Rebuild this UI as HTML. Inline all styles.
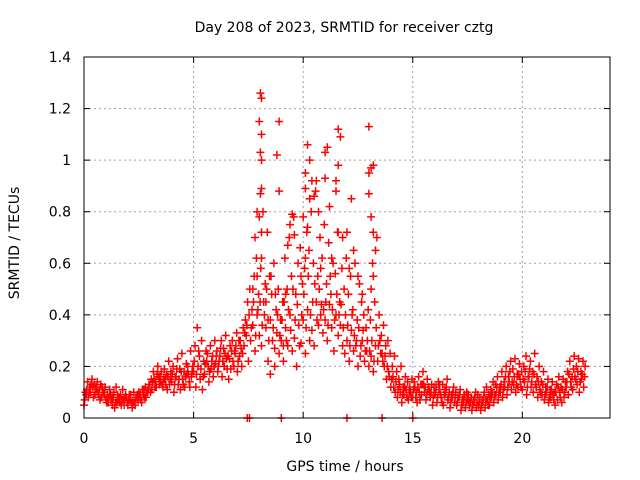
<!DOCTYPE html>
<html><head><meta charset="utf-8"><style>
html,body{margin:0;padding:0;background:#fff;}
svg{display:block;font-family:"DejaVu Sans","Liberation Sans",sans-serif;}
</style></head><body>
<svg id="chart" width="640" height="480" xmlns="http://www.w3.org/2000/svg">
<rect width="640" height="480" fill="#fff"/>
<text x="344" y="32" font-size="14" text-anchor="middle">Day 208 of 2023, SRMTID for receiver cztg</text>
<text x="19" y="243" font-size="14" text-anchor="middle" transform="rotate(-90 19 243)">SRMTID / TECUs</text>
<text x="345" y="471" font-size="14" text-anchor="middle">GPS time / hours</text>
<g id="grid"></g><g id="ticks"></g><g id="marks"></g>
<rect x="84" y="57" width="526" height="361" fill="none" stroke="#000" stroke-width="1"/>
</svg>
<script>
const xTicks=[0,5,10,15,20];
const yTicks=[0,0.2,0.4,0.6,0.8,1,1.2,1.4];
const yTickLabels=["0","0.2","0.4","0.6","0.8","1","1.2","1.4"];
const lowBand=[.05,.09,.08,.10,.12,.09,.14,.11,.08,.10,.07,.06,.09,.05,.04,.06,.08,.05,.07,.09,.05,.07,.04,.06,.08,.10,.07,.09,.12,.10,.13,.11,.15,.12,.16,.14,.12,.15,.11,.13,.14,.10,.16,.13,.11,.15,.12,.17,.14,.16,.18,.12,.20,.15,.11,.17,.22,.14,.19,.16,.21,.18,.24,.16,.20,.23,.15,.19,.22,.25,.18,.24,.20,.28,.32,.22,.30,.36,.26,.40,.32,.28,.45,.35,.22,.38,.30,.27,.33,.25,.30,.22,.35,.28,.40,.26,.31,.20,.36,.29,.38,.25,.42,.30,.34,.28,.45,.36,.40,.33,.38,.30,.44,.35,.26,.40,.32,.36,.28,.25,.30,.22,.34,.26,.28,.20,.24,.30,.22,.26,.20,.24,.18,.28,.22,.30,.25,.20,.15,.18,.12,.16,.10,.08,.13,.06,.09,.11,.07,.10,.08,.12,.06,.10,.09,.13,.07,.11,.08,.05,.09,.06,.11,.08,.05,.10,.07,.04,.08,.06,.05,.08,.03,.06,.04,.07,.05,.03,.06,.04,.05,.03,.06,.04,.07,.05,.08,.06,.09,.07,.10,.08,.12,.09,.14,.11,.13,.10,.12,.15,.11,.14,.09,.16,.12,.10,.13,.08,.11,.09,.07,.10,.06,.08,.09,.05,.07,.10,.06,.08,.12,.09,.14,.11,.16,.13,.10,.15,.12];
const midBand=[.07,.11,.10,.13,.08,.12,.10,.07,.12,.09,.06,.08,.07,.08,.06,.09,.06,.07,.05,.08,.07,.09,.06,.05,.09,.08,.06,.11,.08,.11,.10,.14,.12,.17,.13,.18,.15,.13,.16,.15,.17,.13,.19,.15,.18,.13,.16,.20,.12,.18,.22,.17,.26,.19,.16,.21,.25,.18,.22,.20,.24,.20,.27,.22,.25,.19,.23,.26,.20,.28,.22,.30,.25,.33,.36,.40,.35,.45,.32,.42,.45,.36,.40,.50,.30,.55,.35,.48,.40,.32,.38,.45,.30,.42,.34,.50,.38,.44,.28,.40,.48,.35,.55,.40,.45,.52,.38,.50,.44,.42,.45,.36,.55,.42,.38,.48,.40,.44,.35,.40,.36,.28,.40,.32,.30,.35,.28,.34,.26,.30,.26,.30,.22,.35,.28,.25,.22,.24,.20,.16,.15,.12,.14,.11,.10,.09,.12,.08,.10,.08,.11,.08,.12,.07,.13,.10,.09,.12,.10,.08,.10,.08,.13,.06,.09,.12,.08,.06,.10,.08,.06,.09,.05,.08,.06,.09,.06,.05,.08,.06,.06,.05,.08,.07,.05,.08,.10,.09,.12,.10,.13,.11,.16,.12,.18,.14,.16,.13,.17,.12,.15,.18,.12,.19,.14,.17,.12,.14,.10,.13,.09,.12,.08,.11,.07,.10,.12,.08,.11,.10,.14,.17,.12,.19,.15,.18,.14,.17,.16];
const highBand=[.10,.14,.12,.15,.13,.11,.09,.13,.10,.12,.09,.11,.08,.10,.12,.07,.09,.11,.08,.06,.09,.06,.10,.08,.07,.09,.11,.08,.10,.13,.15,.18,.14,.20,.16,.13,.19,.17,.22,.18,.20,.16,.23,.19,.25,.18,.21,.17,.26,.20,.28,.35,.24,.30,.22,.26,.20,.28,.24,.30,.26,.22,.30,.27,.32,.24,.28,.30,.26,.33,.30,.27,.35,.38,.45,.50,.42,.55,.62,.48,.58,.80,.52,.72,.55,.48,.60,.42,.50,.38,.45,.62,.50,.70,.55,.78,.48,.60,.66,.52,.58,.72,.65,.80,.60,.88,.55,.70,.62,.75,.52,.68,.48,.60,.56,.72,.45,.58,.50,.62,.48,.55,.42,.60,.38,.52,.45,.40,.35,.42,.38,.60,.45,.70,.40,.32,.36,.28,.30,.25,.20,.24,.18,.15,.20,.12,.16,.14,.12,.15,.14,.10,.16,.13,.18,.12,.15,.10,.13,.12,.12,.14,.09,.13,.11,.15,.10,.09,.12,.10,.08,.11,.07,.09,.10,.06,.08,.07,.10,.09,.08,.07,.10,.12,.09,.11,.14,.13,.16,.12,.18,.14,.20,.16,.22,.19,.23,.17,.21,.18,.20,.24,.16,.22,.18,.25,.16,.20,.14,.18,.12,.15,.11,.14,.10,.13,.16,.12,.15,.14,.18,.22,.16,.24,.20,.23,.18,.22,.20];
const peakTimes=[8.05,8.1,8.0,8.1,8.05,8.1,8.1,8.05,7.9,8.0,8.1,7.8,8.1,8.9,8.8,8.9,9.5,9.4,9.6,9.3,10.1,10.2,10.3,10.4,10.1,10.5,10.6,10.3,10.0,10.2,10.1,10.7,11.0,11.1,11.0,11.2,11.5,11.6,11.8,11.6,11.7,11.6,11.5,12.0,12.2,12.3,12.1,13.0,13.1,13.0,13.2,13.0,13.1,13.2,13.3,13.2,13.1,9.9,9.2,8.5,8.3,8.4,7.9,7.7,12.5,12.7,11.3,10.8,9.0,9.1,8.7,8.5,7.45,7.55,9.0,12.0,13.6,15.0];
const peakValues=[1.26,1.24,1.15,1.1,1.03,1.0,0.89,0.87,0.80,0.78,0.72,0.7,0.62,1.15,1.02,0.88,0.79,0.75,0.71,0.67,0.95,1.06,1.0,0.92,0.89,0.86,0.92,0.85,0.78,0.74,0.62,0.80,1.03,1.05,0.93,0.82,0.92,0.72,0.70,1.12,1.09,0.98,0.88,0.72,0.85,0.65,0.58,1.13,0.97,0.95,0.98,0.87,0.78,0.72,0.65,0.55,0.5,0.55,0.48,0.55,0.45,0.38,0.55,0.5,0.55,0.48,0.62,0.58,0.3,0.28,0.2,0.17,0,0,0,0,0,0];
const X0=84,X1=610,Y0=418,Y1=57;
const xScale=t=>X0+t/24*(X1-X0);
const yScale=v=>Y0-v/1.4*(Y0-Y1);
const NS="http://www.w3.org/2000/svg";
function mk(tag,attrs,parent){const e=document.createElementNS(NS,tag);for(const k in attrs)e.setAttribute(k,attrs[k]);parent.appendChild(e);return e;}
const grid=document.getElementById('grid'),ticks=document.getElementById('ticks'),marks=document.getElementById('marks');
yTicks.forEach((v,i)=>{const y=yScale(v);
 if(i>0&&i<yTicks.length-1){const g=mk('line',{x1:X0,x2:X1,y1:y,y2:y,stroke:'#a0a0a0','stroke-dasharray':'2,3'},grid);
 
 }
 const t=mk('text',{x:X0-13,y:y+5,'font-size':14,'text-anchor':'end'},ticks);t.textContent=yTickLabels[i];
 
 
 mk('line',{x1:X0,x2:X0+6,y1:y,y2:y,stroke:'#000'},ticks);mk('line',{x1:X1,x2:X1-6,y1:y,y2:y,stroke:'#000'},ticks);});
xTicks.forEach(v=>{const x=xScale(v);
 if(v>0){const g=mk('line',{x1:x,x2:x,y1:Y0,y2:Y1,stroke:'#a0a0a0','stroke-dasharray':'2,3'},grid);
 
 }
 const t=mk('text',{x:x,y:Y0+25,'font-size':14,'text-anchor':'middle'},ticks);t.textContent=String(v);
 
 
 mk('line',{x1:x,x2:x,y1:Y0,y2:Y0-6,stroke:'#000'},ticks);mk('line',{x1:x,x2:x,y1:Y1,y2:Y1+6,stroke:'#000'},ticks);});
let d='';
function plus(t,v){const x=xScale(t),y=yScale(v);d+=`M${(x-4).toFixed(1)} ${y.toFixed(1)}h8M${x.toFixed(1)} ${(y-4).toFixed(1)}v8`;}
[lowBand,midBand,highBand].forEach((arr,k)=>arr.forEach((v,i)=>{plus(i*0.1+k*0.033,v);}));
peakTimes.forEach((t,i)=>plus(t,peakValues[i]));
const p=mk('path',{d:d,stroke:'#ff0000','stroke-width':1.5,fill:'none'},marks);


</script>
</body></html>
